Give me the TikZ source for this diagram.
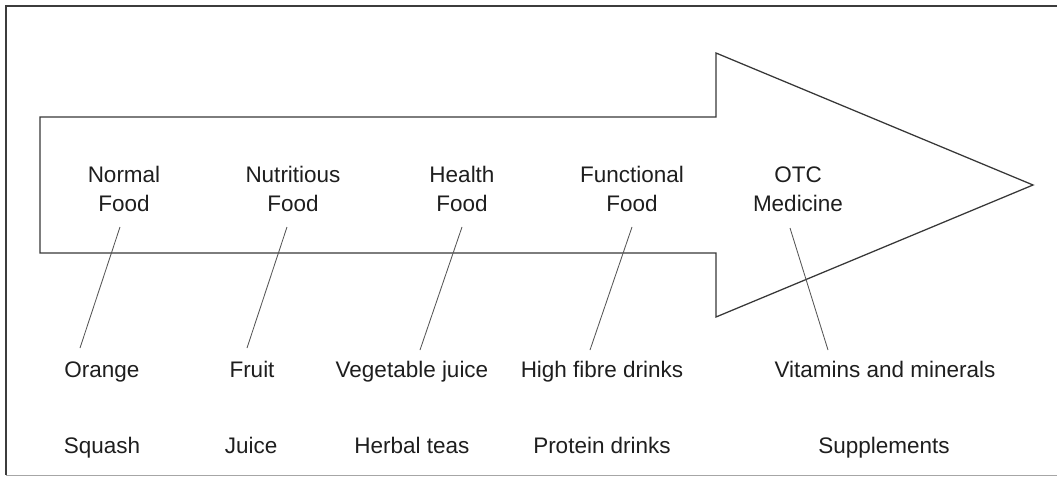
\documentclass[tikz,border=0pt]{standalone}
\usepackage{fontspec}
\setmainfont{Liberation Sans}
\usepackage{xcolor}
\usetikzlibrary{calc}
\definecolor{frameclr}{RGB}{60,60,60}
\definecolor{arrowclr}{RGB}{55,55,55}
\definecolor{linkclr}{RGB}{85,85,85}
\definecolor{labelclr}{RGB}{30,30,30}
\tikzset{
  stagelbl/.style={anchor=base, align=center, inner sep=0pt, text=labelclr,
                   font=\fontsize{16}{20.6}\selectfont},
  prodlbl/.style={anchor=base, inner sep=0pt, text=labelclr,
                  font=\fontsize{16}{19}\selectfont},
  linkline/.style={draw=linkclr, line width=0.6pt}
}

\begin{document}
\begin{tikzpicture}
  \useasboundingbox (0,0) rectangle (26.425,-11.925);
  % frame, cut off at the right
  \draw[frameclr, line width=0.9pt] (26.6,-0.15) -- (0.15,-0.15) -- (0.15,-11.875);
  \draw[black!35, line width=0.6pt] (0.15,-11.875) -- (26.6,-11.875);
  % the big arrow
  \draw[arrowclr, line width=0.9pt, line join=miter]
    (1.0,-2.925) -- (17.9,-2.925) -- (17.9,-1.325) -- (25.825,-4.625)
    -- (17.9,-7.925) -- (17.9,-6.325) -- (1.0,-6.325) -- cycle;
  % stages along the arrow
  \node[stagelbl] (normal) at (3.10,-5.275) {Normal\\Food};
  \node[stagelbl] (nutri) at (7.325,-5.275) {Nutritious\\Food};
  \node[stagelbl] (health) at (11.55,-5.275) {Health\\Food};
  \node[stagelbl] (funct) at (15.80,-5.275) {Functional\\Food};
  \node[stagelbl] (otc) at (19.95,-5.275) {OTC\\Medicine};
  % examples, first row
  \node[prodlbl] (orange) at (2.55,-9.425) {Orange};
  \node[prodlbl] (fruit) at (6.30,-9.425) {Fruit};
  \node[prodlbl] (vegjuice) at (10.30,-9.425) {Vegetable juice};
  \node[prodlbl] (fibre) at (15.05,-9.425) {High fibre drinks};
  \node[prodlbl] (vitamins) at (22.125,-9.425) {Vitamins and minerals};
  % examples, second row
  \node[prodlbl] (squash) at (2.55,-11.325) {Squash};
  \node[prodlbl] (juice) at (6.28,-11.325) {Juice};
  \node[prodlbl] (herbal) at (10.30,-11.325) {Herbal teas};
  \node[prodlbl] (protein) at (15.05,-11.325) {Protein drinks};
  \node[prodlbl] (suppl) at (22.10,-11.325) {Supplements};
  % links stage -> example
  \draw[linkline] ($(normal.base)+(-0.10,-0.40)$) -- ($(orange.base)+(-0.55,0.725)$);
  \draw[linkline] ($(nutri.base)+(-0.15,-0.40)$) -- ($(fruit.base)+(-0.125,0.725)$);
  \draw[linkline] ($(health.base)+(0,-0.40)$) -- ($(vegjuice.base)+(0.20,0.675)$);
  \draw[linkline] ($(funct.base)+(0,-0.40)$) -- ($(fibre.base)+(-0.30,0.675)$);
  \draw[linkline] ($(otc.base)+(-0.20,-0.425)$) -- ($(vitamins.base)+(-1.425,0.675)$);
\end{tikzpicture}
\end{document}
